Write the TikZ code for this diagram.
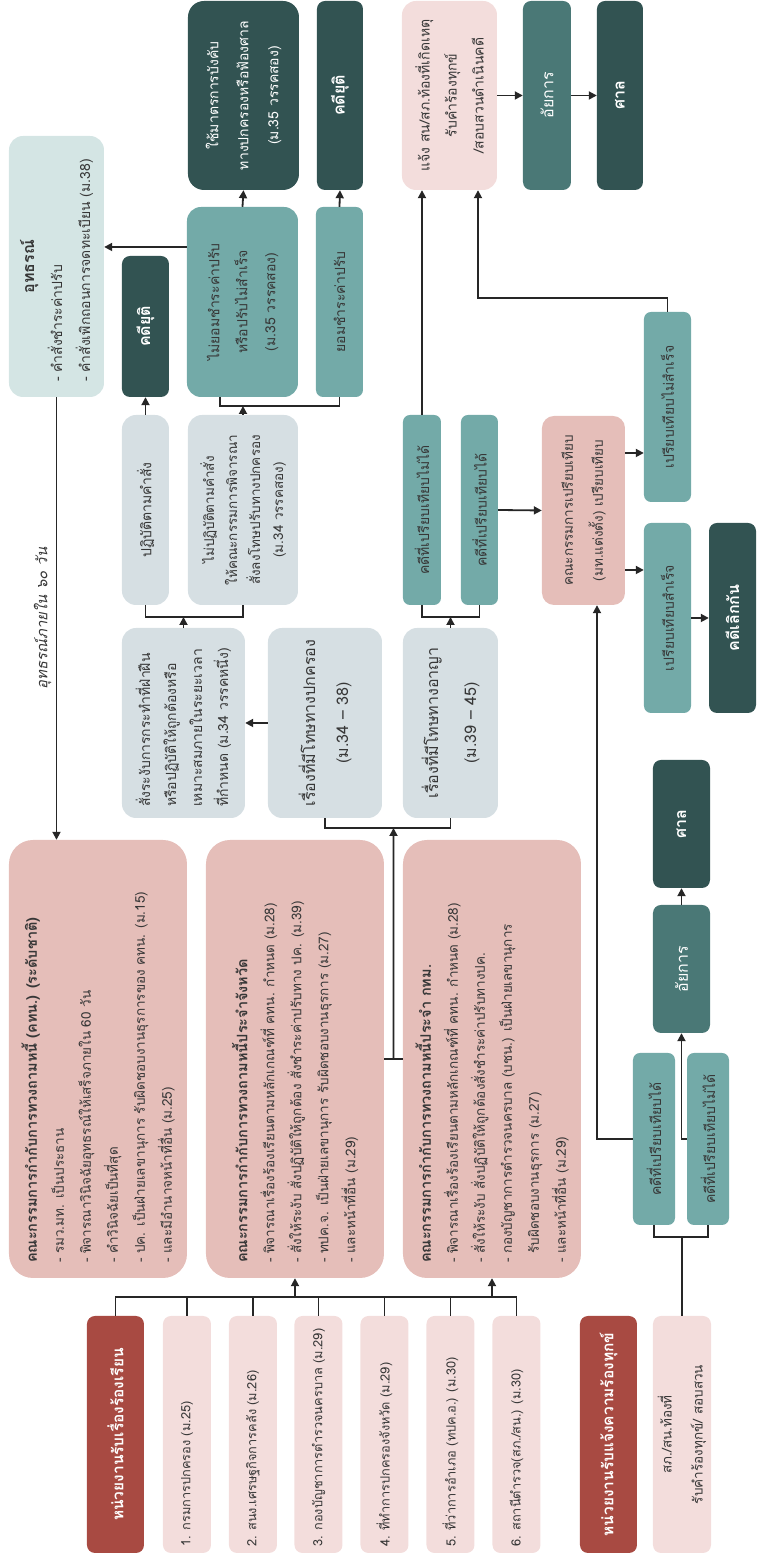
\documentclass[tikz,border=0pt]{standalone}
\usepackage{fontspec}
\setmainfont[Script=Thai]{Loma}
\newfontfamily\lblfam[Script=Thai, FakeSlant=0.2]{Loma}
\usetikzlibrary{arrows.meta, calc}

\definecolor{hdrred}{RGB}{168,74,66}
\definecolor{srcpink}{RGB}{243,221,220}
\definecolor{cmtpink}{RGB}{229,190,185}
\definecolor{greyc}{RGB}{214,223,227}
\definecolor{appealc}{RGB}{212,229,228}
\definecolor{tealc}{RGB}{115,170,168}
\definecolor{midteal}{RGB}{74,120,118}
\definecolor{darkc}{RGB}{50,83,82}
\definecolor{ln}{RGB}{38,38,38}
\definecolor{txt}{RGB}{55,55,55}

\newcommand{\srcfont}{\fontsize{12.8}{18}\selectfont}
\newcommand{\hdrfont}{\fontsize{15.5}{19}\selectfont\bfseries}
\newcommand{\cmtfont}{\fontsize{13.5}{27}\selectfont}
\newcommand{\cmttitle}[1]{{\fontsize{14.5}{27}\selectfont\bfseries #1}}
\newcommand{\boxfont}{\fontsize{14}{28}\selectfont}
\newcommand{\darkfont}{\fontsize{16}{20}\selectfont\bfseries}
\newcommand{\lblfont}{\fontsize{15}{18}\lblfam\selectfont}

\begin{document}
\begin{tikzpicture}[rotate=90, transform shape, x=1pt, y=1pt,
    conn/.style={draw=ln, line width=1.8pt},
    arr/.style={conn, -{Triangle[length=8pt, width=8pt]}},
    box/.style={rounded corners=8pt, text=txt, inner xsep=8pt, inner ysep=3pt, font=\boxfont, align=center},
    hdrbox/.style={box, fill=hdrred, text=white, font=\hdrfont, minimum width=237pt, minimum height=57pt},
    srcbox/.style={box, fill=srcpink, font=\srcfont, minimum width=237pt, minimum height=48pt, text width=225pt, inner xsep=6pt, align=flush left},
    cmtbox/.style={box, fill=cmtpink, rounded corners=24pt, font=\cmtfont, minimum width=438pt, minimum height=178pt, text width=408pt, inner xsep=15pt, align=flush left},
    greybox/.style={box, fill=greyc, rounded corners=14pt, minimum width=190pt},
    tealbox/.style={box, fill=tealc, rounded corners=10pt, minimum width=190pt},
    darkbox/.style={box, fill=darkc, text=white, font=\darkfont, minimum width=189pt},
  ]
  \useasboundingbox (0,0) rectangle (1560,756);

  \node[hdrbox] (hdrA) at (125.5,640.5) {หน่วยงานรับเรื่องร้องเรียน};
  \node[srcbox] (src1) at (125.5,569) {1. กรมการปกครอง (ม.25)};
  \node[srcbox] (src2) at (125.5,503) {2. สนง.เศรษฐกิจการคลัง (ม.26)};
  \node[srcbox] (src3) at (125.5,437.5) {3. กองบัญชาการตำรวจนครบาล (ม.29)};
  \node[srcbox] (src4) at (125.5,371.5) {4. ที่ทำการปกครองจังหวัด (ม.29)};
  \node[srcbox] (src5) at (125.5,305.5) {5. ที่ว่าการอำเภอ (ทปค.อ.) (ม.30)};
  \node[srcbox] (src6) at (125.5,239.5) {6. สถานีตำรวจ(สภ./สน.) (ม.30)};
  \node[hdrbox] (hdrB) at (125.5,147.5) {หน่วยงานรับแจ้งความร้องทุกข์};
  \node[box, fill=srcpink, font=\fontsize{13.5}{31}\selectfont, minimum width=237pt, minimum height=58pt] (srcB) at (125.5,74) {สภ./สน.ท้องที่\\รับคำร้องทุกข์/ สอบสวน};

  \node[cmtbox] (C1) at (501,658) {\cmttitle{คณะกรรมการกำกับการทวงถามหนี้ (คทน.) (ระดับชาติ)}\\
    - รมว.มท. เป็นประธาน\\
    - พิจารณาวินิจฉัยอุทธรณ์ให้เสร็จภายใน 60 วัน\\
    - คำวินิจฉัยเป็นที่สุด\\
    - ปค. เป็นฝ่ายเลขานุการ รับผิดชอบงานธุรการของ คทน. (ม.15)\\
    - และมีอำนาจหน้าที่อื่น (ม.25)};
  \node[cmtbox] (C2) at (501,461) {\cmttitle{คณะกรรมการกำกับการทวงถามหนี้ประจำจังหวัด}\\
    - พิจารณาเรื่องร้องเรียนตามหลักเกณฑ์ที่ คทน. กำหนด (ม.28)\\
    - สั่งให้ระงับ สั่งปฏิบัติให้ถูกต้อง สั่งชำระค่าปรับทาง ปค. (ม.39)\\
    - ทปค.จ. เป็นฝ่ายเลขานุการ รับผิดชอบงานธุรการ (ม.27)\\
    - และหน้าที่อื่น (ม.29)};
  \node[cmtbox] (C3) at (501,264) {\cmttitle{คณะกรรมการกำกับการทวงถามหนี้ประจำ กทม.}\\
    - พิจารณาเรื่องร้องเรียนตามหลักเกณฑ์ที่ คทน. กำหนด (ม.28)\\
    - สั่งให้ระงับ สั่งปฏิบัติให้ถูกต้องสั่งชำระค่าปรับทางปค.\\
    - กองบัญชาการตำรวจนครบาล (บชน.) เป็นฝ่ายเลขานุการ\\
    \hspace*{0.7em}รับผิดชอบงานธุรการ (ม.27)\\
    - และหน้าที่อื่น (ม.29)};

  \node[greybox, minimum height=123pt, text width=168pt, inner xsep=11pt, align=flush left, font=\fontsize{14}{26}\selectfont] (G1) at (837,572.5)
    {สั่งระงับการกระทำที่ฝ่าฝืน\\หรือปฏิบัติให้ถูกต้องหรือ\\เหมาะสมภายในระยะเวลา\\ที่กำหนด (ม.34 วรรคหนึ่ง)};
  \node[greybox, minimum height=114pt, font=\fontsize{16}{33}\selectfont] (G2) at (837,431) {เรื่องที่มีโทษทางปกครอง\\(ม.34 – 38)};
  \node[greybox, minimum height=95pt, font=\fontsize{16}{38}\selectfont] (G3) at (837,305.5) {เรื่องที่มีโทษทางอาญา\\(ม.39 – 45)};

  \node[greybox, minimum height=47pt] (P1) at (1050,610.5) {ปฏิบัติตามคำสั่ง};
  \node[greybox, minimum height=110pt, font=\fontsize{13.5}{23}\selectfont] (P2) at (1050,513)
    {ไม่ปฏิบัติตามคำสั่ง\\ให้คณะกรรมการพิจารณา\\สั่งลงโทษปรับทางปกครอง\\(ม.34 วรรคสอง)};
  \node[tealbox, minimum height=38pt, rounded corners=7pt] (N1) at (1050,334) {คดีที่เปรียบเทียบไม่ได้};
  \node[tealbox, minimum height=37pt, rounded corners=7pt] (N2) at (1050,276.5) {คดีที่เปรียบเทียบได้};
  \node[box, fill=cmtpink, rounded corners=12pt, minimum width=189pt, minimum height=83pt, font=\fontsize{13.5}{30}\selectfont] (M1) at (1049.5,172.5)
    {คณะกรรมการเปรียบเทียบ\\(มท.แต่งตั้ง) เปรียบเทียบ};
  \node[tealbox, minimum height=47pt, rounded corners=7pt] (F1) at (1153,88.5) {เปรียบเทียบไม่สำเร็จ};
  \node[tealbox, minimum height=47pt, rounded corners=7pt] (F2) at (942,88.5) {เปรียบเทียบสำเร็จ};
  \node[darkbox, minimum width=190pt, minimum height=47pt] (E1) at (942,23.5) {คดีเลิกกัน};

  \node[darkbox, minimum width=141pt, minimum height=47pt] (K1) at (1233.5,610.5) {คดียุติ};
  \node[tealbox, minimum height=111pt, rounded corners=14pt] (T1) at (1258,513.5) {ไม่ยอมชำระค่าปรับ\\หรือปรับไม่สำเร็จ\\(ม.35 วรรคสอง)};
  \node[tealbox, minimum height=47pt, rounded corners=7pt] (T2) at (1258,416.5) {ยอมชำระค่าปรับ};
  \node[box, fill=appealc, rounded corners=14pt, minimum width=261pt, minimum height=95pt, text width=231pt, inner xsep=15pt, align=flush left] (appeal) at (1293.5,699.5)
    {\makebox[\hsize]{\fontsize{16}{28}\selectfont\bfseries อุทธรณ์}\\- คำสั่งชำระค่าปรับ\\- คำสั่งเพิกถอนการจดทะเบียน (ม.38)};

  \node[darkbox, minimum height=111pt, rounded corners=16pt, font=\fontsize{14}{30}\selectfont] (D1) at (1464.5,512.5)
    {ใช้มาตรการบังคับ\\ทางปกครองหรือฟ้องศาล\\(ม.35 วรรคสอง)};
  \node[darkbox, minimum height=46pt] (K2) at (1464.5,416) {คดียุติ};
  \node[box, fill=srcpink, rounded corners=14pt, minimum width=189pt, minimum height=95pt, font=\fontsize{14}{27}\selectfont] (R1) at (1464.5,306.5)
    {แจ้ง สน/สภ.ท้องที่เกิดเหตุ\\รับคำร้องทุกข์\\/สอบสวนดำเนินคดี};
  \node[darkbox, fill=midteal, minimum height=48pt, font=\fontsize{16}{20}\selectfont] (A1) at (1464.5,209) {อัยการ};
  \node[darkbox, minimum height=46pt] (S1) at (1464.5,136) {ศาล};

  \node[tealbox, minimum width=172pt, minimum height=42pt, rounded corners=7pt] (V1) at (421,102) {คดีที่เปรียบเทียบได้};
  \node[tealbox, minimum width=172pt, minimum height=42pt, rounded corners=7pt] (V2) at (421,48) {คดีที่เปรียบเทียบไม่ได้};
  \node[darkbox, fill=midteal, minimum width=128pt, minimum height=57pt, font=\fontsize{16}{20}\selectfont] (A2) at (591,74.5) {อัยการ};
  \node[darkbox, minimum width=128pt, minimum height=57pt] (S2) at (736,74.5) {ศาล};

  \coordinate (busA) at (263,640.5);
  \coordinate (busB) at (263,239.5);
  \draw[conn] (hdrA.east) -- (busA) -- (busB) -- (src6.east);
  \foreach \s in {src1,src2,src3,src4,src5}
    \draw[conn] (\s.east) -- (\s.east -| busA);
  \draw[arr] (C2.west -| busA) -- (C2.west);
  \draw[arr] (C3.west -| busA) -- (C3.west);

  \coordinate (cmtmid) at ($(C2.south)!0.5!(C3.north)$);
  \coordinate (brk1) at (732,362.5);
  \draw[conn] (C2.south) -- (C3.north);
  \draw[arr] (cmtmid) -- (brk1);
  \draw[conn] (G2.west) -| (brk1) |- (G3.west);
  \draw[arr] (G2.north) -- (G1.south);

  \coordinate (brk2) at (943,572.5);
  \draw[arr] (G1.east) -- (brk2);
  \draw[conn] (P1.west) -| (brk2) |- (P2.west);
  \draw[arr] (P1.east) -- (K1.west);

  \coordinate (brk3) at (943,305.5);
  \draw[arr] (G3.east) -- (brk3);
  \draw[conn] (N1.west) -| (brk3) |- (N2.west);

  \coordinate (brk4) at (1154,513);
  \draw[arr] (P2.east) -- (brk4);
  \draw[conn] ($(T1.west)+(0,22.5)$) -| (brk4) |- (T2.west);
  \draw[arr] (T1.east) -- (D1.west);
  \draw[arr] (T2.east) -- (K2.west);
  \coordinate (t1a) at ($(T1.north)+(55,0)$);
  \draw[arr] (t1a) -- (t1a |- appeal.south);
  \draw[arr] (appeal.west) -- (appeal.west -| C1.east)
    node[midway, above=1pt, font=\lblfont, text=txt] {อุทธรณ์ภายใน ๖๐ วัน};

  \draw[arr] (N1.east) -- (N1.east -| R1.west);
  \draw[arr] (N2.south) -- (M1.north);
  \coordinate (m1a) at ($(M1.south)+(57.5,0)$);
  \coordinate (m1b) at ($(M1.south)+(-59.5,0)$);
  \draw[arr] (m1a) -- (m1a |- F1.north);
  \draw[arr] (m1b) -- (m1b |- F2.north);
  \draw[arr] (F2.south) -- (E1.north);
  \coordinate (fbend) at (1262,278);
  \draw[arr] (F1.east) -| (fbend) -- (fbend -| R1.west);
  \draw[arr] (R1.south) -- (A1.north);
  \draw[arr] (A1.south) -- (S1.north);

  \coordinate (brk5) at (323,74);
  \draw[conn] (srcB.east) -- (brk5);
  \draw[conn] (V1.west) -| (brk5) |- (V2.west);
  \draw[arr] (V2.north) |- (A2.west);
  \coordinate (v1b) at ($(M1.west)+(0,-13.5)$);
  \draw[arr] (V1.north) |- (v1b);
  \draw[arr] (A2.east) -- (S2.west);
\end{tikzpicture}
\end{document}
